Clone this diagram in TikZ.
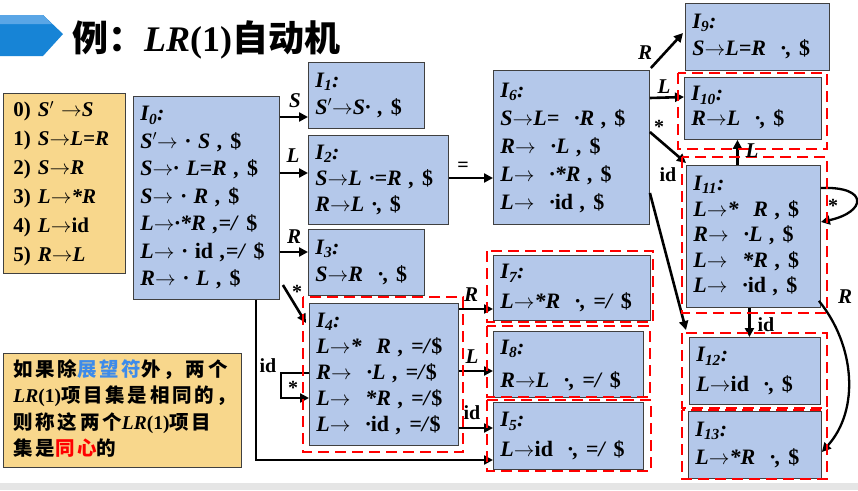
\documentclass[tikz,border=0pt]{standalone}
\usepackage{fontspec}
\setmainfont{Liberation Serif}
\newfontfamily\cjk{Noto Sans CJK SC}
\newfontfamily\cjkn[LetterSpace=14]{Noto Sans CJK SC}
\usetikzlibrary{arrows.meta}
\definecolor{boxblue}{HTML}{B4C8EA}
\definecolor{boxorange}{HTML}{F8D78C}
\definecolor{bannerblue}{HTML}{1784D6}
\definecolor{bannerlight}{HTML}{5AA6E6}
\definecolor{noteblue}{HTML}{3D8BEA}
\newcommand\ar{$\rightarrow$}
\newcommand\dl{\textup{\$}}
\newcommand\Is[1]{\textit{I}\textsubscript{\textit{#1}}:}
\newcommand\tb[1]{\begin{tabular}{@{}l@{}}#1\end{tabular}}
\begin{document}
\begin{tikzpicture}[x=1pt,y=-1pt,
 st/.style={draw=black!75,line width=0.9pt,fill=boxblue,anchor=north west,inner xsep=7pt,inner ysep=0pt,align=left,font=\bfseries\itshape\fontsize{22}{27}\selectfont},
 ob/.style={draw=black!75,line width=0.9pt,fill=boxorange,anchor=north west,inner xsep=10pt,inner ysep=0pt,align=left},
 grp/.style={draw=red,line width=2.6pt,dash pattern=on 11pt off 6pt},
 conn/.style={line width=2.6pt,-{Triangle[length=9pt,width=9pt]}},
 lab/.style={font=\bfseries\itshape\fontsize{21}{21}\selectfont,inner sep=0pt},
 labu/.style={font=\bfseries\fontsize{20}{20}\selectfont,inner sep=0pt},
]
\useasboundingbox (0,0) rectangle (858,490);
\fill[white] (0,0) rectangle (858,490);
\fill[black!10] (0,483) rectangle (858,490);
% banner
\fill[bannerblue] (0,15) -- (43,15) -- (63,34) -- (43,56) -- (0,56) -- cycle;
\fill[bannerlight] (0,15) -- (43,15) -- (52,24) -- (0,24) -- cycle;
\node[anchor=west,inner sep=0pt,font=\fontsize{36}{36}\selectfont] (title) at (72,40)
  {{\cjk\bfseries 例：}\textbf{\textit{LR}(1)}{\cjk\bfseries 自动机}};
% grammar
\node[ob,text width=102pt,minimum height=180pt,font=\bfseries\fontsize{21}{29}\selectfont] (G) at (3,93)
 {\tb{0) \textit{S$'$ \ar S}\\ 1) \textit{S\ar L=R}\\ 2) \textit{S\ar R}\\ 3) \textit{L\ar*R}\\ 4) \textit{L\ar}id\\ 5) \textit{R\ar L}}};
% note
\node[ob,text width=218pt,minimum height=114pt,font=\bfseries\fontsize{19.5}{26.5}\selectfont] (N) at (3,353)
 {\tb{{\cjkn 如果除\textcolor{noteblue}{展望符}外，两个}\\
 \textit{LR}(1){\cjkn 项目集是相同的，}\\
 {\cjkn 则称这两个}\textit{LR}(1){\cjkn 项目}\\
 {\cjkn 集是\textcolor{red}{同心}的}}};
% states
\node[st,text width=132pt,minimum height=203pt,font=\bfseries\itshape\fontsize{22}{27.5}\selectfont] (I0) at (133,96)
 {\tb{\Is0\\ S$'$\ar\ · S , \dl\\ S\ar· L=R , \dl\\ S\ar\ · R , \dl\\ L\ar·*R ,=/ \dl\\ L\ar\ · \textup{id} ,=/ \dl\\ R\ar\ · L , \dl}};
\node[st,text width=102pt,minimum height=66pt] (I1) at (308,62) {\tb{\Is1\\ S$'$\ar S· , \dl}};
\node[st,text width=126pt,minimum height=89pt,font=\bfseries\itshape\fontsize{22}{26}\selectfont] (I2) at (308,135) {\tb{\Is2\\ S\ar L ·=R , \dl\\ R\ar L ·, \dl}};
\node[st,text width=102pt,minimum height=66pt] (I3) at (308,229) {\tb{\Is3\\ S\ar R \ ·, \dl}};
\node[st,text width=135pt,minimum height=142pt,font=\bfseries\itshape\fontsize{22}{26}\selectfont] (I4) at (309,303)
 {\tb{\Is4\\ L\ar*\ \ R , =/\dl\\ R\ar\ \ ·L , =/\dl\\ L\ar\ \ *R , =/\dl\\ L\ar\ \ ·\textup{id} , =/\dl}};
\node[st,text width=136pt,minimum height=67pt,font=\bfseries\itshape\fontsize{22}{30}\selectfont] (I5) at (493,402) {\tb{\Is5\\ L\ar\textup{id} \ ·, =/ \dl}};
\node[st,text width=142pt,minimum height=154pt,font=\bfseries\itshape\fontsize{22}{28}\selectfont] (I6) at (493,70)
 {\tb{\Is6\\ S\ar L= \ ·R , \dl\\ R\ar\ \ ·L , \dl\\ L\ar\ \ ·*R , \dl\\ L\ar\ \ ·\textup{id} , \dl}};
\node[st,text width=143pt,minimum height=65pt,font=\bfseries\itshape\fontsize{22}{30}\selectfont] (I7) at (493,255) {\tb{\Is7\\ L\ar*R \ ·, =/ \dl}};
\node[st,text width=136pt,minimum height=66pt,font=\bfseries\itshape\fontsize{22}{33}\selectfont] (I8) at (493,331) {\tb{\Is8\\ R\ar L \ ·, =/ \dl}};
\node[st,text width=130pt,minimum height=67pt] (I9) at (685,3) {\tb{\Is9\\ S\ar L=R \ ·, \dl}};
\node[st,text width=123pt,minimum height=62pt,font=\bfseries\itshape\fontsize{22}{25}\selectfont] (I10) at (684,77) {\tb{\Is{10}\\ R\ar L \ ·, \dl}};
\node[st,text width=120pt,minimum height=142pt,font=\bfseries\itshape\fontsize{22}{25.5}\selectfont] (I11) at (686,165)
 {\tb{\Is{11}\\ L\ar*\ \ R , \dl\\ R\ar\ \ ·L , \dl\\ L\ar\ \ *R , \dl\\ L\ar\ \ ·\textup{id} , \dl}};
\node[st,text width=117pt,minimum height=67pt,font=\bfseries\itshape\fontsize{22}{30}\selectfont] (I12) at (689,337) {\tb{\Is{12}\\ L\ar\textup{id} \ ·, \dl}};
\node[st,text width=119pt,minimum height=67pt,font=\bfseries\itshape\fontsize{22}{28}\selectfont] (I13) at (688,411) {\tb{\Is{13}\\ L\ar*R \ ·, \dl}};
% connectors
\draw[conn] (I0.east |- 0,117) -- (I1.west |- 0,117);
\draw[conn] (I0.east |- 0,173) -- (I2.west |- 0,173);
\draw[conn] (I0.east |- 0,252) -- (I3.west |- 0,252);
\draw[conn] ([shift={(3,189)}]I0.north east) -- ([shift={(-3,20)}]I4.north west);
\draw[conn] ([shift={(-24,0)}]I0.south east) |- (I5.west |- 0,460);
\draw[conn,line width=2.3pt] (I4.west |- 0,373) -- ++(-28,0) -- ++(0,25) -- (I4.west |- 0,398);
\draw[conn] (I2.east |- 0,178) -- (I6.west |- 0,178);
\draw[conn] (I4.east |- 0,309) -- (I7.west |- 0,309);
\draw[conn] (I4.east |- 0,371) -- (I8.west |- 0,371);
\draw[conn] (I4.east |- 0,428) -- (I5.west |- 0,428);
\draw[conn] ([shift={(1,-2)}]I6.north east) -- ([shift={(-2,30)}]I9.north west);
\draw[conn] (I6.east |- 0,98) -- (I10.west |- 0,97);
\draw[conn] (I6.east |- 0,132) -- ([shift={(0,-2)}]I11.north west);
\draw[conn] (I6.east |- 0,193) -- ([shift={(-3,-7)}]I12.north west);
\draw[conn] ([xshift=-16pt]I11.north) -- ([xshift=-16pt]I11.north |- I10.south);
\draw[conn] ([xshift=-4pt]I11.south) -- ([xshift=-4pt]I11.south |- I12.north);
\draw[conn,line width=2.3pt] (I11.east |- 0,188) .. controls +(48,-2) and +(46,-10) .. (I11.east |- 0,222);
\draw[conn,line width=2.3pt] ([shift={(-2,-7)}]I11.south east) .. controls (855,345) and (860,410) .. (I13.east |- 0,452);
% red dashed groups
\draw[grp] (303,297) rectangle (463,452);
\draw[grp] (487,251) rectangle (653,322);
\draw[grp] (487,326) rectangle (650,397);
\draw[grp] (487,400) rectangle (651,471);
\draw[grp] (678,73) rectangle (827,149);
\draw[grp] (682,157) rectangle (827,313);
\draw[grp] (682,333) rectangle (827,408);
\draw[grp] (682,410) rectangle (827,479);
% labels
\node[lab] (l1) at (295,101) {S};
\node[lab] (l2) at (293,156) {L};
\node[lab] (l3) at (294,237) {R};
\node[labu] (l4) at (297,292) {*};
\node[labu] (l5) at (268,366) {id};
\node[labu] (l6) at (293,388) {*};
\node[labu] (l7) at (463,167) {=};
\node[lab] (l8) at (471,295) {R};
\node[lab] (l9) at (472,357) {L};
\node[labu] (l10) at (472,413) {id};
\node[lab] (l11) at (645,53) {R};
\node[lab] (l12) at (664,87) {L};
\node[labu] (l13) at (659,127) {*};
\node[labu] (l14) at (668,175) {id};
\node[lab] (l15) at (752,151) {L};
\node[labu] (l16) at (833,206) {*};
\node[labu] (l17) at (766,325) {id};
\node[lab] (l18) at (845,297) {R};
\end{tikzpicture}
\end{document}
